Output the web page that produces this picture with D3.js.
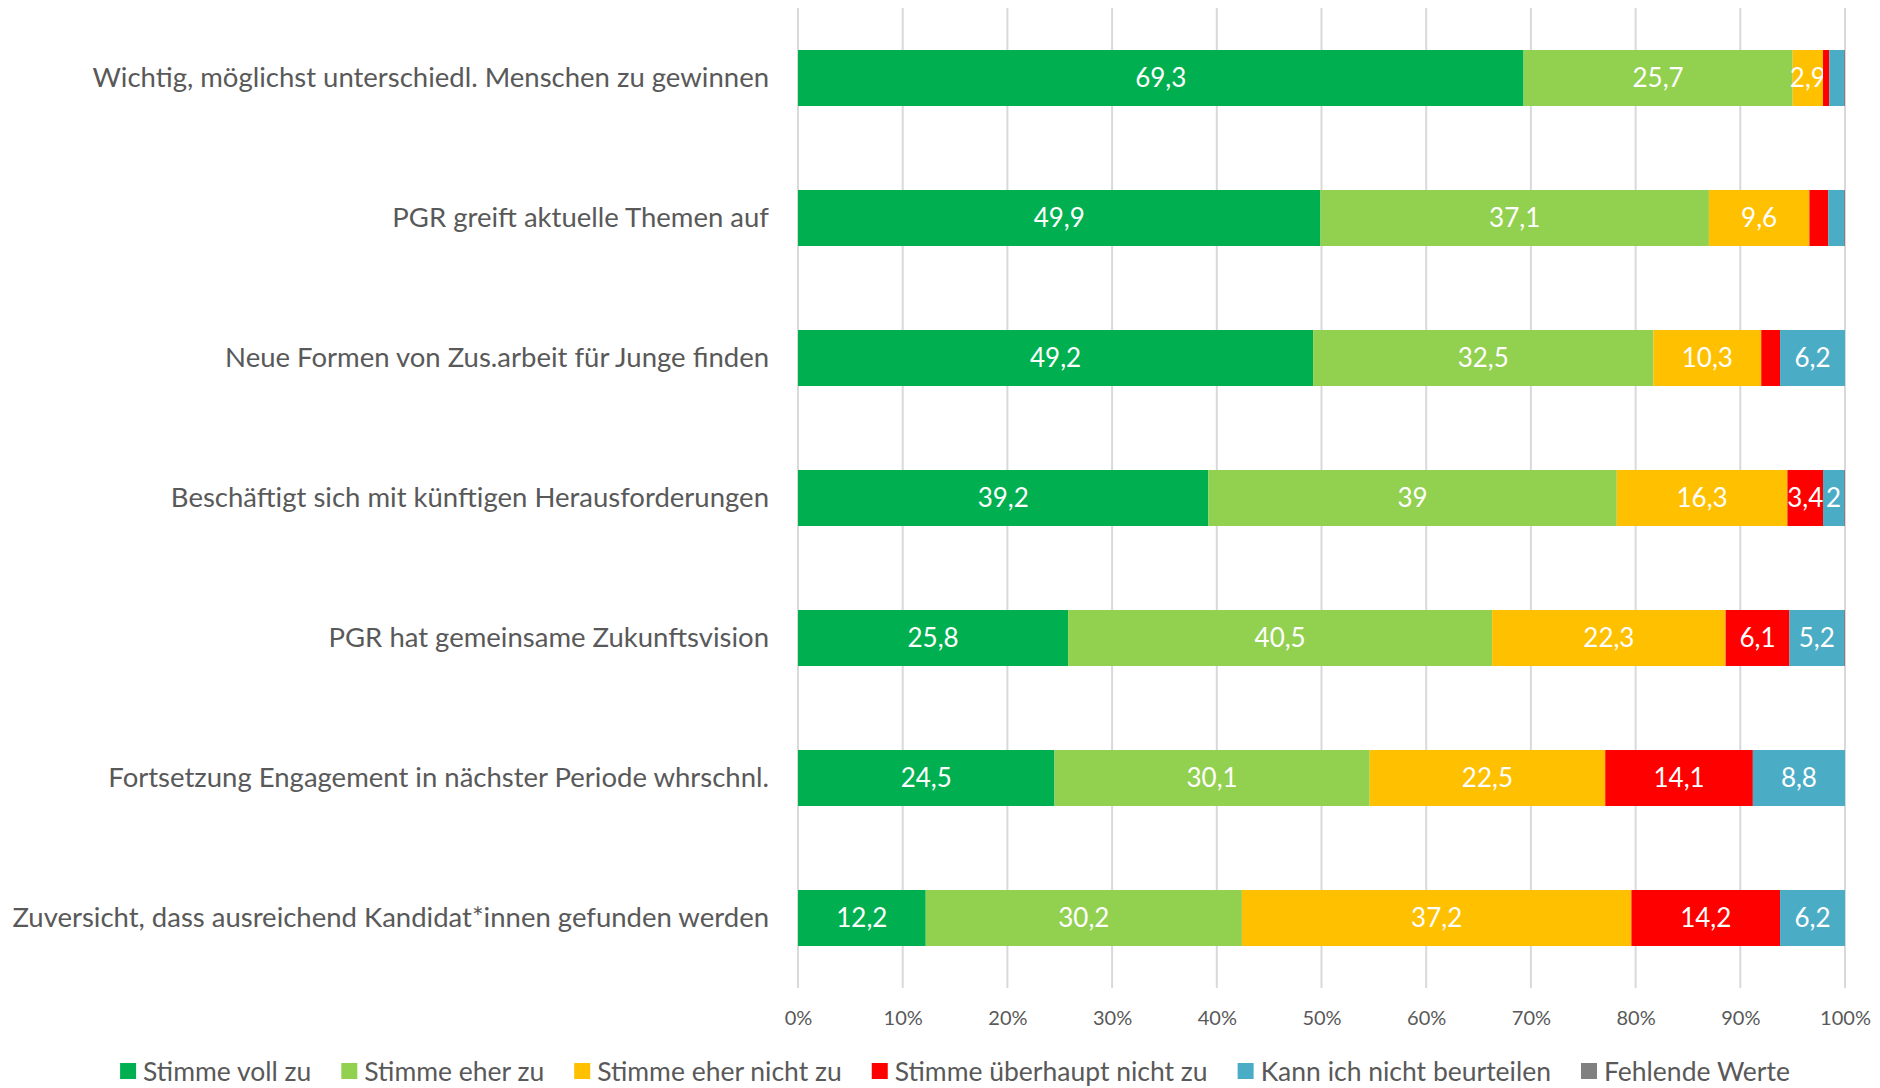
<!DOCTYPE html>
<html>
<head>
<meta charset="utf-8">
<script src="https://cdn.jsdelivr.net/npm/d3@7"></script>
<style>
	body { margin: 0; background: #fff; }
	text { font-family: Lato, "Open Sans", sans-serif; }
</style>
</head>
<body>
<script>
// Zeilen (von oben nach unten)
var categories = [
	"Wichtig, möglichst unterschiedl. Menschen zu gewinnen",
	"PGR greift aktuelle Themen auf",
	"Neue Formen von Zus.arbeit für Junge finden",
	"Beschäftigt sich mit künftigen Herausforderungen",
	"PGR hat gemeinsame Zukunftsvision",
	"Fortsetzung Engagement in nächster Periode whrschnl.",
	"Zuversicht, dass ausreichend Kandidat*innen gefunden werden"
];

var seriesNames = ["Stimme voll zu", "Stimme eher zu", "Stimme eher nicht zu",
	"Stimme überhaupt nicht zu", "Kann ich nicht beurteilen", "Fehlende Werte"];
var seriesColors = ["#00B050", "#92D050", "#FFC000", "#FF0000", "#4BACC6", "#808080"];

// Werte in Prozent, je Serie eine Liste (Reihenfolge wie categories)
var vollZu        = [69.3, 49.9, 49.2, 39.2, 25.8, 24.5, 12.2];
var eherZu        = [25.7, 37.1, 32.5, 39.0, 40.5, 30.1, 30.2];
var eherNichtZu   = [2.9, 9.6, 10.3, 16.3, 22.3, 22.5, 37.2];
var ueberhauptNicht = [0.6, 1.8, 1.8, 3.4, 6.1, 14.1, 14.2];
var kannNicht     = [1.4, 1.5, 6.2, 2.0, 5.2, 8.8, 6.2];
var fehlend       = [0.1, 0.1, 0.0, 0.1, 0.1, 0.0, 0.0];

var tickValues = [0, 10, 20, 30, 40, 50, 60, 70, 80, 90, 100];

var width = 1880;
var height = 1088;

var seriesValues = [vollZu, eherZu, eherNichtZu, ueberhauptNicht, kannNicht, fehlend];

// rows for d3.stack
var rows = categories.map(function(c, i){
	var r = {cat: c};
	seriesNames.forEach(function(s, j){ r[s] = seriesValues[j][i]; });
	return r;
});

var stacked = d3.stack().keys(seriesNames)(rows);

var svg = d3.select("body")
			.append("svg")
			.attr("width", width)
			.attr("height", height);

var xScale = d3.scaleLinear()
			.domain([0, 100])
			.range([798, 1845]);

var yScale = d3.scaleBand()
			.domain(categories)
			.range([8, 988])
			.paddingInner(0.6)
			.paddingOuter(0.3);

var colorScale = d3.scaleOrdinal()
			.domain(seriesNames)
			.range(seriesColors);

// gridlines
svg.append("g")
	.selectAll("line")
	.data(tickValues)
	.enter()
		.append("line")
		.attr("x1", function(d){return xScale(d)})
		.attr("x2", function(d){return xScale(d)})
		.attr("y1", 8)
		.attr("y2", 988)
		.attr("stroke", "#D9D9D9")
		.attr("stroke-width", 2);

// x axis labels
var xAxis = d3.axisBottom(xScale)
			.tickValues(tickValues)
			.tickSize(0)
			.tickFormat(function(d){return d + "%"});

var xAxisG = svg.append("g")
			.attr("transform", "translate(0, 1008)")
			.call(xAxis);
xAxisG.select(".domain").remove();
xAxisG.selectAll("text")
	.attr("font-family", "Lato, 'Open Sans', sans-serif")
	.attr("font-size", "20px")
	.attr("fill", "#595959");

// y axis labels
var yAxis = d3.axisLeft(yScale)
			.tickSize(0)
			.tickPadding(29);

var yAxisG = svg.append("g")
			.attr("transform", "translate(798, 0)")
			.call(yAxis);
yAxisG.select(".domain").remove();
yAxisG.selectAll("text")
	.attr("font-family", "Lato, 'Open Sans', sans-serif")
	.attr("font-size", "27.5px")
	.attr("fill", "#595959");

// bars
var layers = svg.selectAll(".layer")
			.data(stacked)
			.enter()
				.append("g")
				.attr("class", "layer")
				.attr("fill", function(d){return colorScale(d.key)});

layers.selectAll("rect")
	.data(function(d){return d})
	.enter()
		.append("rect")
		.attr("x", function(d){return xScale(d[0])})
		.attr("y", function(d){return yScale(d.data.cat)})
		.attr("width", function(d){return xScale(d[1]) - xScale(d[0])})
		.attr("height", yScale.bandwidth());

// value labels (small segments have none)
layers.selectAll("text")
	.data(function(d){return d.map(function(p){ return {p: p, key: d.key}; })})
	.enter()
		.append("text")
		.filter(function(d){return (d.p[1] - d.p[0]) >= 2})
		.attr("x", function(d){return (xScale(d.p[0]) + xScale(d.p[1])) / 2})
		.attr("y", function(d){return yScale(d.p.data.cat) + yScale.bandwidth() / 2})
		.attr("dy", ".36em")
		.attr("text-anchor", "middle")
		.attr("fill", "#ffffff")
		.attr("font-size", "26px")
		.text(function(d){return String(+(d.p[1] - d.p[0]).toFixed(1)).replace(".", ",")});

// legend
var legend = svg.append("g");
var legendItems = legend.selectAll("g")
			.data(seriesNames)
			.enter()
				.append("g");

legendItems.append("rect")
	.attr("width", 16)
	.attr("height", 16)
	.attr("y", -8)
	.attr("fill", function(d){return colorScale(d)});

legendItems.append("text")
	.attr("x", 23)
	.attr("dy", ".36em")
	.attr("font-size", "26.5px")
	.attr("fill", "#595959")
	.text(function(d){return d});

var lx = 0;
legendItems.each(function(){
	var w = d3.select(this).select("text").node().getComputedTextLength();
	d3.select(this).attr("transform", "translate(" + lx + ",0)");
	lx += 23 + w + 30;
});
lx -= 30;
legend.attr("transform", "translate(" + (955 - lx / 2) + ",1071)");
</script>
</body>
</html>
